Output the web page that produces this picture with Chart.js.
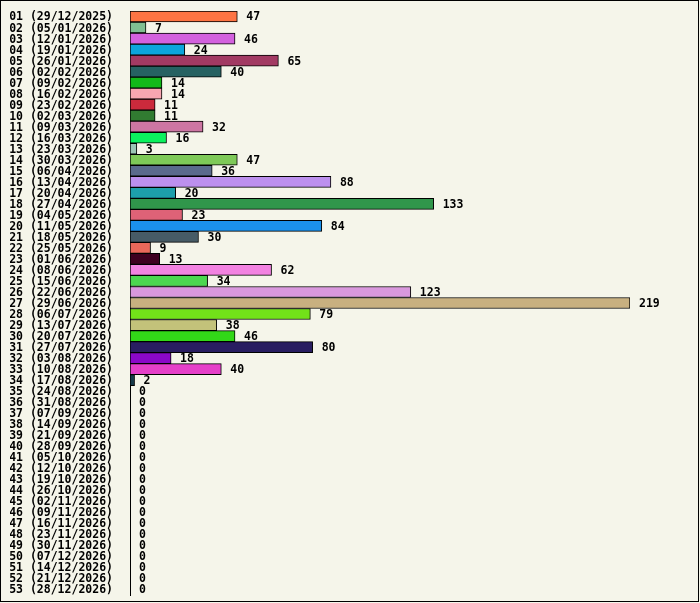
<!DOCTYPE html>
<html>
<head>
<meta charset="utf-8">
<script src="https://cdn.jsdelivr.net/npm/chart.js@4"></script>
<style>
  html, body { margin: 0; padding: 0; background: #f5f5ea; }
  canvas { display: block; }
</style>
</head>
<body>
<canvas id="weekChart" width="700" height="603"></canvas>
<script>
// week labels
const labels = [
  '01 (29/12/2025)', '02 (05/01/2026)', '03 (12/01/2026)', '04 (19/01/2026)', '05 (26/01/2026)',
  '06 (02/02/2026)', '07 (09/02/2026)', '08 (16/02/2026)', '09 (23/02/2026)', '10 (02/03/2026)',
  '11 (09/03/2026)', '12 (16/03/2026)', '13 (23/03/2026)', '14 (30/03/2026)', '15 (06/04/2026)',
  '16 (13/04/2026)', '17 (20/04/2026)', '18 (27/04/2026)', '19 (04/05/2026)', '20 (11/05/2026)',
  '21 (18/05/2026)', '22 (25/05/2026)', '23 (01/06/2026)', '24 (08/06/2026)', '25 (15/06/2026)',
  '26 (22/06/2026)', '27 (29/06/2026)', '28 (06/07/2026)', '29 (13/07/2026)', '30 (20/07/2026)',
  '31 (27/07/2026)', '32 (03/08/2026)', '33 (10/08/2026)', '34 (17/08/2026)', '35 (24/08/2026)',
  '36 (31/08/2026)', '37 (07/09/2026)', '38 (14/09/2026)', '39 (21/09/2026)', '40 (28/09/2026)',
  '41 (05/10/2026)', '42 (12/10/2026)', '43 (19/10/2026)', '44 (26/10/2026)', '45 (02/11/2026)',
  '46 (09/11/2026)', '47 (16/11/2026)', '48 (23/11/2026)', '49 (30/11/2026)', '50 (07/12/2026)',
  '51 (14/12/2026)', '52 (21/12/2026)', '53 (28/12/2026)'
];

// counts per week
const counts = [
  47, 7, 46, 24, 65, 40, 14, 14, 11, 11,
  32, 16, 3, 47, 36, 88, 20, 133, 23, 84,
  30, 9, 13, 62, 34, 123, 219, 79, 38, 46,
  80, 18, 40, 2, 0, 0, 0, 0, 0, 0,
  0, 0, 0, 0, 0, 0, 0, 0, 0, 0,
  0, 0, 0
];

// bar colors (one per week)
const barColors = [
  '#fd7443', '#80bf93', '#d361de', '#0ba5dc', '#a23a63', '#266262', '#12b91a', '#f7a6b1', '#cb2a3c', '#317b31',
  '#cd76a3', '#0bf15e', '#9cc6b6', '#7ec958', '#5a6a8c', '#bc90ee', '#1d9faa', '#30964b', '#de6277', '#1b91ec',
  '#475b66', '#e9685a', '#3e0020', '#f282e1', '#4cd650', '#d998dd', '#c8b080', '#72e219', '#c3c27a', '#32d718',
  '#291d61', '#8b08c8', '#e540c9', '#173b4b', '#888888', '#888888', '#888888', '#888888', '#888888', '#888888',
  '#888888', '#888888', '#888888', '#888888', '#888888', '#888888', '#888888', '#888888', '#888888', '#888888',
  '#888888', '#888888', '#888888'
];

const monoFont = { family: '"DejaVu Sans Mono", monospace', size: 11.5, weight: 'bold' };

// background + frame
const framePlugin = {
  id: 'frame',
  beforeDraw(chart) {
    const c = chart.ctx;
    c.save();
    c.fillStyle = '#f5f5ea';
    c.fillRect(0, 0, chart.width, chart.height);
    c.restore();
  },
  afterDraw(chart) {
    const c = chart.ctx;
    c.save();
    c.strokeStyle = '#000';
    c.lineWidth = 1;
    c.strokeRect(0.5, 0.5, chart.width - 2, chart.height - 2);
    c.restore();
  }
};

// numbers at the end of each bar
const valueLabels = {
  id: 'valueLabels',
  afterDatasetsDraw(chart) {
    const c = chart.ctx;
    const meta = chart.getDatasetMeta(0);
    c.save();
    c.font = 'bold 11.5px "DejaVu Sans Mono", monospace';
    c.fillStyle = '#000';
    c.textAlign = 'left';
    c.textBaseline = 'middle';
    meta.data.forEach((bar, i) => {
      c.fillText(String(counts[i]), bar.x + 9, bar.y + 1);
    });
    c.restore();
  }
};

new Chart(document.getElementById('weekChart'), {
  type: 'bar',
  data: {
    labels: labels,
    datasets: [{
      data: counts,
      backgroundColor: barColors,
      borderColor: '#000',
      borderWidth: 1,
      borderSkipped: false,
      barPercentage: 1,
      categoryPercentage: 1
    }]
  },
  options: {
    indexAxis: 'y',
    responsive: false,
    animation: false,
    devicePixelRatio: 1,
    layout: { padding: { left: 10, top: 11, bottom: 8, right: 70 } },
    plugins: {
      legend: { display: false },
      tooltip: { enabled: false }
    },
    scales: {
      x: {
        display: false,
        min: 0,
        max: 219
      },
      y: {
        afterFit(scale) { scale.width = 120; },
        grid: { display: false, drawTicks: true, tickLength: 17 },
        border: { display: true, color: '#000', width: 1 },
        ticks: {
          color: '#000',
          font: monoFont,
          padding: 0,
          labelOffset: 1,
          autoSkip: false
        }
      }
    }
  },
  plugins: [framePlugin, valueLabels]
});
</script>
</body>
</html>
